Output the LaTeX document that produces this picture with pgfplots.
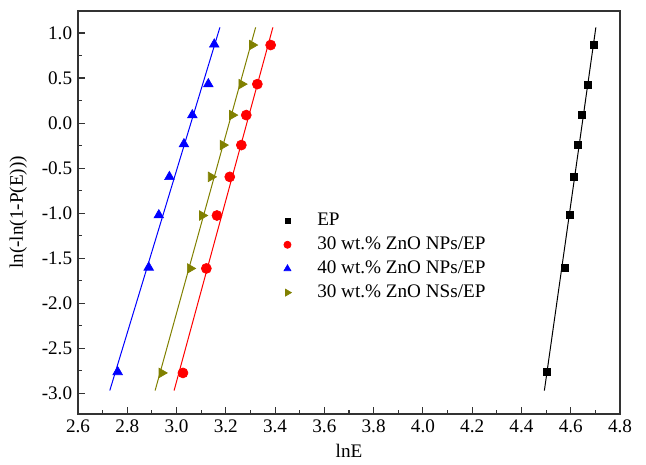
\documentclass[border=0pt]{standalone}
\usepackage{fontspec}
\setmainfont{Liberation Serif}
\usepackage{pgfplots}
\pgfplotsset{compat=1.18}
\definecolor{olivec}{RGB}{128,128,0}

\begin{document}
\begin{tikzpicture}
\begin{axis}[
    scale only axis,
    width=325.2pt, height=241.8pt,
    xmin=2.6, xmax=4.8,
    ymin=-3.23, ymax=1.245,
    xtick={2.6,2.8,...,4.81},
    ytick={-3,-2.5,...,1.01},
    minor x tick num=1,
    minor y tick num=1,
    tick pos=left,
    tick align=inside,
    major tick length=4pt,
    minor tick length=2.4pt,
    axis line style={line width=0.8pt, black!80},
    every tick/.style={line width=0.7pt, black!80},
    font=\fontsize{11.5}{13}\selectfont,
    /pgf/number format/assume math mode=true,
    /pgf/number format/.cd, fixed, fixed zerofill, precision=1,
    /pgfplots/.cd,
    xlabel={lnE},
    ylabel={ln(-ln(1-P(E)))},
    xlabel style={yshift=0pt},
    ylabel style={yshift=2pt},
    legend style={draw=none, fill=none, at={(0.37,0.515)}, anchor=north west,
        font=\fontsize{11.5}{13}\selectfont, row sep=1.2pt,
        /tikz/every odd column/.append style={column sep=13.5pt}},
    legend image post style={/tikz/every mark/.append style={scale=0.72}},
    legend cell align=left,
]
% data points
\addplot[only marks, mark=square*, mark size=2.1pt, black] coordinates {
    (4.693,0.874) (4.670,0.430) (4.647,0.089) (4.630,-0.236)
    (4.614,-0.600) (4.596,-1.022) (4.575,-1.603) (4.502,-2.760)
};
\addlegendentry{EP}
\addplot[only marks, mark=*, mark size=3pt, red] coordinates {
    (3.382,0.867) (3.328,0.433) (3.283,0.089) (3.263,-0.244)
    (3.216,-0.597) (3.164,-1.026) (3.121,-1.614) (3.026,-2.774)
};
\addlegendentry{30 wt.\% ZnO NPs/EP}
\addplot[only marks, mark=triangle*, mark size=3.3pt, blue] coordinates {
    (3.153,0.874) (3.129,0.433) (3.064,0.089) (3.030,-0.233)
    (2.971,-0.597) (2.928,-1.022) (2.887,-1.603) (2.761,-2.763)
};
\addlegendentry{40 wt.\% ZnO NPs/EP}
\addplot[only marks, mark=triangle*, mark size=3.3pt, olivec,
    mark options={rotate=-90}] coordinates {
    (3.307,0.867) (3.264,0.433) (3.226,0.089) (3.188,-0.244)
    (3.140,-0.597) (3.104,-1.026) (3.055,-1.614) (2.940,-2.774)
};
\addlegendentry{30 wt.\% ZnO NSs/EP}
% fitted lines
\addplot[black, line width=0.6pt, forget plot] coordinates {(4.493,-2.97) (4.702,1.063)};
\addplot[red, line width=0.6pt, forget plot] coordinates {(2.990,-2.97) (3.391,1.063)};
\addplot[blue, line width=0.6pt, forget plot] coordinates {(2.729,-2.97) (3.176,1.063)};
\addplot[olivec, line width=0.6pt, forget plot] coordinates {(2.913,-2.97) (3.321,1.063)};
\end{axis}
\path ([xshift=-46.8pt,yshift=-30.6pt]current axis.south west) rectangle
      ([xshift=15.6pt,yshift=6.6pt]current axis.north east);
\end{tikzpicture}
\end{document}
